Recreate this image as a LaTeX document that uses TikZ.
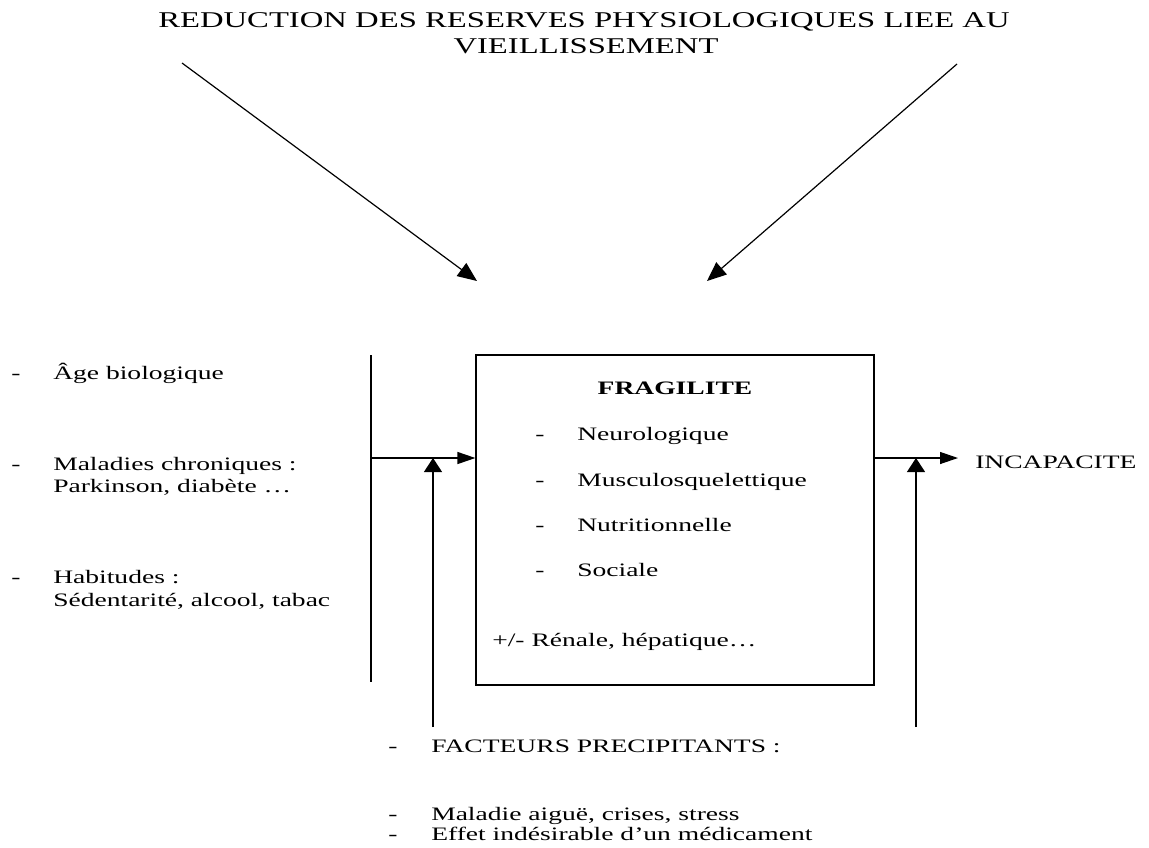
\documentclass[tikz,border=0pt]{standalone}
\usepackage{fontspec}
\setmainfont{Liberation Serif}[FakeStretch=1.45]
\usetikzlibrary{arrows.meta}
\begin{document}
\begin{tikzpicture}[x=0.75pt,y=-0.75pt,
  txt/.style={inner sep=0pt, anchor=base west, font=\fontsize{14.25}{17}\selectfont},
  ctxt/.style={inner sep=0pt, anchor=base, font=\fontsize{14.25}{17}\selectfont},
  ttl/.style={inner sep=0pt, anchor=base, font=\fontsize{16.9}{19.5}\selectfont},
  ln/.style={line width=0.9pt},
  harr/.style={ln, -{Triangle[length=13.5pt,width=9pt]}},
  varr/.style={ln, -{Triangle[length=10.5pt,width=13.5pt]}},
  darr/.style={ln, -{Triangle[length=14.5pt,width=12pt]}},
]
\path[use as bounding box] (0,0) rectangle (1149,847);

% title
\node[ttl] (title1) at (584,27) {REDUCTION DES RESERVES PHYSIOLOGIQUES LIEE AU};
\node[ttl] (title2) at (586,53) {VIEILLISSEMENT};

% diagonal arrows
\coordinate (d1s) at (182,63);
\coordinate (d1e) at (477,281);
\coordinate (d2s) at (957,64);
\coordinate (d2e) at (707,281);
\draw[darr] (d1s) -- (d1e);
\draw[darr] (d2s) -- (d2e);

% central box
\node[draw, ln, inner sep=0pt, minimum width=298.5pt, minimum height=247.5pt] (box) at (675,520) {};
\node[ctxt, font=\fontsize{14.25}{17}\selectfont\bfseries] (frag) at (675,394) {FRAGILITE};
\node[txt] (bd1) at (535,440) {-};
\node[txt] (b1) at (577,440) {Neurologique};
\node[txt] (bd2) at (535,486) {-};
\node[txt] (b2) at (577,486) {Musculosquelettique};
\node[txt] (bd3) at (535,531) {-};
\node[txt] (b3) at (577,531) {Nutritionnelle};
\node[txt] (bd4) at (535,576) {-};
\node[txt] (b4) at (577,576) {Sociale};
\node[txt] (b5) at (492,646) {+/- Rénale, hépatique…};

% left list
\node[txt] (ld1) at (11,379) {-};
\node[txt] (l1) at (53,379) {Âge biologique};
\node[txt] (ld2) at (11,470) {-};
\node[txt] (l2) at (53,470) {Maladies chroniques :};
\node[txt] (l2b) at (53,492) {Parkinson, diabète …};
\node[txt] (ld3) at (11,583) {-};
\node[txt] (l3) at (53,583) {Habitudes :};
\node[txt] (l3b) at (53,606) {Sédentarité, alcool, tabac};

% left bar and input arrow
\coordinate (lt) at (371,355);
\coordinate (lb) at (371,682);
\coordinate (lm) at (371,458);
\draw[ln] (lt) -- (lb);
\draw[harr] (lm) -- (lm -| box.west);

% upward arrows
\coordinate (u1) at (433,727);
\draw[varr] (u1) -- (u1 |- lm);
\coordinate (u2) at (916,727);
\draw[varr] (u2) -- (u2 |- lm);

% output
\node[txt] (inc) at (975,468) {INCAPACITE};
\coordinate (ot) at (958,458);
\draw[harr] (box.east |- lm) -- (ot);

% bottom list
\node[txt] (fd1) at (388,752) {-};
\node[txt] (f1) at (431,752) {FACTEURS PRECIPITANTS :};
\node[txt] (fd2) at (388,820) {-};
\node[txt] (f2) at (431,820) {Maladie aiguë, crises, stress};
\node[txt] (fd3) at (388,840) {-};
\node[txt] (f3) at (431,840) {Effet indésirable d’un médicament};
\end{tikzpicture}
\end{document}
